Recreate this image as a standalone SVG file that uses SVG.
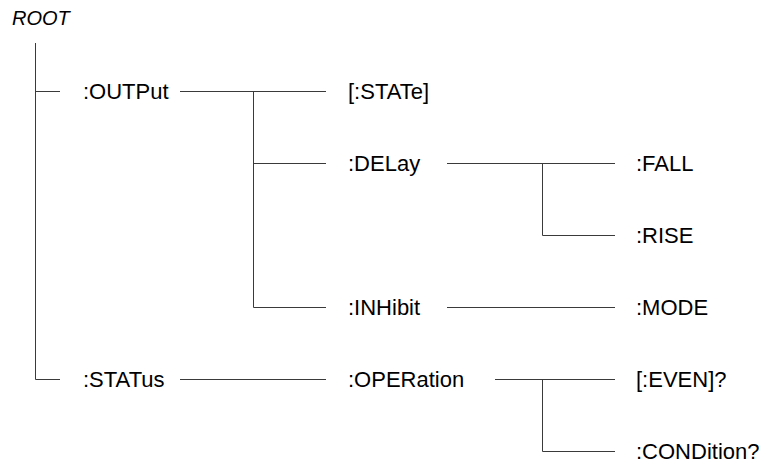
<svg xmlns="http://www.w3.org/2000/svg" width="769" height="462" viewBox="0 0 769 462">
<style>
.t{font-family:"Liberation Sans",Arial,sans-serif;font-size:22px;fill:#000}
.r{font-family:"Liberation Sans",Arial,sans-serif;font-size:20px;font-style:italic;fill:#000}
.c line{stroke:#3a3a3a;stroke-width:1;fill:none}
</style>
<rect width="769" height="462" fill="#fff"/>
<g id="root"><text class="r" x="12" y="25">ROOT</text></g>
<g id="output"><text class="t" x="83" y="99">:OUTPut</text></g>
<g id="state"><text class="t" x="348" y="99">[:STATe]</text></g>
<g id="delay"><text class="t" x="348" y="171">:DELay</text></g>
<g id="fall"><text class="t" x="636" y="171">:FALL</text></g>
<g id="rise"><text class="t" x="636" y="243">:RISE</text></g>
<g id="inhibit"><text class="t" x="348" y="315">:INHibit</text></g>
<g id="mode"><text class="t" x="636" y="315">:MODE</text></g>
<g id="status"><text class="t" x="83" y="387">:STATus</text></g>
<g id="operation"><text class="t" x="348" y="387">:OPERation</text></g>
<g id="even"><text class="t" x="636" y="387">[:EVEN]?</text></g>
<g id="condition"><text class="t" x="636" y="459">:CONDition?</text></g>
<g id="connectors" class="c">
<line x1="35.5" y1="43" x2="35.5" y2="379.5"/>
<line x1="35.5" y1="91.5" x2="60" y2="91.5"/>
<line x1="35.5" y1="379.5" x2="60" y2="379.5"/>
<line x1="180" y1="91.5" x2="326" y2="91.5"/>
<line x1="253.5" y1="91.5" x2="253.5" y2="307.5"/>
<line x1="253.5" y1="163.5" x2="326" y2="163.5"/>
<line x1="253.5" y1="307.5" x2="326" y2="307.5"/>
<line x1="447" y1="163.5" x2="615" y2="163.5"/>
<line x1="542.5" y1="163.5" x2="542.5" y2="235.5"/>
<line x1="542.5" y1="235.5" x2="615" y2="235.5"/>
<line x1="447" y1="307.5" x2="615" y2="307.5"/>
<line x1="180" y1="379.5" x2="326" y2="379.5"/>
<line x1="495" y1="379.5" x2="615" y2="379.5"/>
<line x1="542.5" y1="379.5" x2="542.5" y2="451.5"/>
<line x1="542.5" y1="451.5" x2="615" y2="451.5"/>
</g>
</svg>
